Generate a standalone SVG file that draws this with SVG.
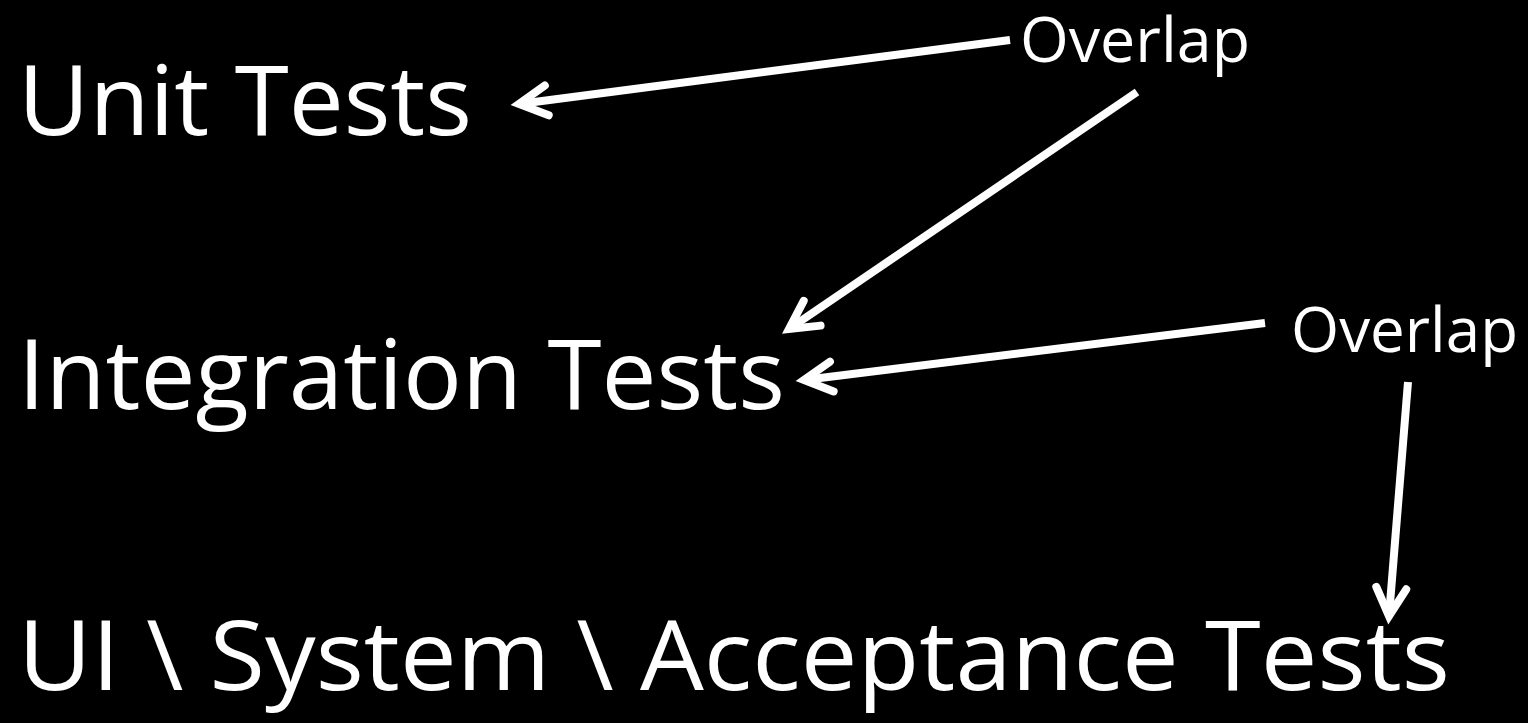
<svg xmlns="http://www.w3.org/2000/svg" width="1528" height="723" viewBox="0 0 1528 723">
<style>
.big{font-family:"Open Sans","Liberation Sans",sans-serif;font-size:97px;fill:#fff}
.small{font-family:"Open Sans","Liberation Sans",sans-serif;font-size:62px;fill:#fff}
.conn{stroke:#fff;stroke-width:8;fill:none;marker-end:url(#head)}
</style>
<defs>
<marker id="head" markerUnits="userSpaceOnUse" viewBox="-40 -20 50 40" refX="-4" refY="0" markerWidth="50" markerHeight="40" orient="auto" overflow="visible">
<path d="M-32,-15 L-4,0 L-32,15" fill="none" stroke="#fff" stroke-width="8" stroke-linecap="round" stroke-linejoin="miter"/>
</marker>
</defs>
<rect width="1528" height="723" fill="#000"/>
<g id="unit"><text class="big" x="18" y="135" textLength="454" lengthAdjust="spacingAndGlyphs">Unit Tests</text></g>
<g id="integration"><text class="big" x="18" y="409" textLength="767" lengthAdjust="spacingAndGlyphs">Integration Tests</text></g>
<g id="ui"><text class="big" x="18" y="690" textLength="1432" lengthAdjust="spacingAndGlyphs">UI \ System \ Acceptance Tests</text></g>
<g id="overlap1"><text class="small" x="1020" y="62" textLength="230" lengthAdjust="spacingAndGlyphs">Overlap</text></g>
<g id="overlap2"><text class="small" x="1291" y="352" textLength="227" lengthAdjust="spacingAndGlyphs">Overlap</text></g>
<g id="connectors">
<line class="conn" x1="1010" y1="40" x2="519" y2="104"/>
<line class="conn" x1="1137" y1="92" x2="789" y2="329"/>
<line class="conn" x1="1265" y1="323" x2="804" y2="380"/>
<line class="conn" x1="1408" y1="382" x2="1389" y2="616"/>
</g>
</svg>
